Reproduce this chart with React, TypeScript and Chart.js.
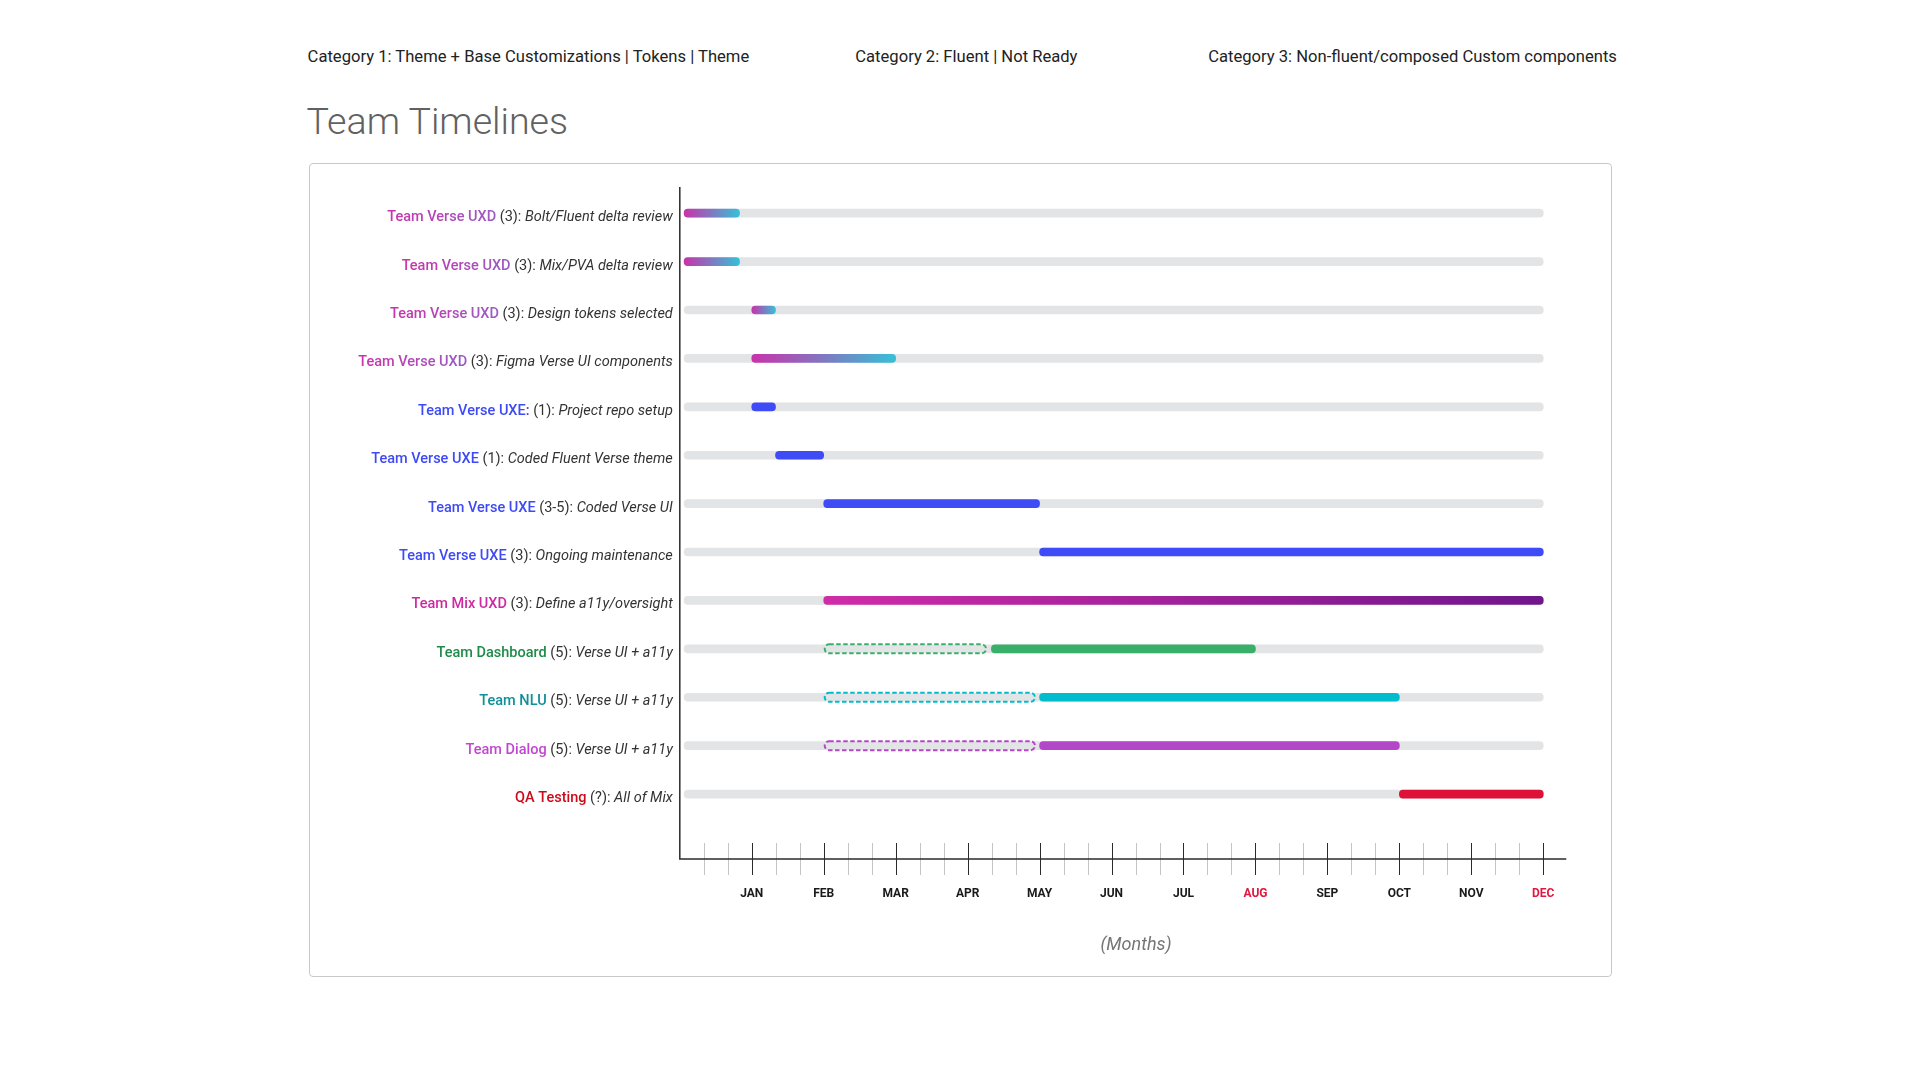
import { useEffect, useRef } from 'react';
import { Chart, registerables } from 'chart.js';

Chart.register(...registerables);

const teams = [
  'Team Verse UXD',
  'Team Verse UXD',
  'Team Verse UXD',
  'Team Verse UXD',
  'Team Verse UXE:',
  'Team Verse UXE',
  'Team Verse UXE',
  'Team Verse UXE',
  'Team Mix UXD',
  'Team Dashboard',
  'Team NLU',
  'Team Dialog',
  'QA Testing',
];
const crews = ['3', '3', '3', '3', '1', '1', '3-5', '3', '3', '5', '5', '5', '?'];
const tasks = [
  'Bolt/Fluent delta review',
  'Mix/PVA delta review',
  'Design tokens selected',
  'Figma Verse UI components',
  'Project repo setup',
  'Coded Fluent Verse theme',
  'Coded Verse UI',
  'Ongoing maintenance',
  'Define a11y/oversight',
  'Verse UI + a11y',
  'Verse UI + a11y',
  'Verse UI + a11y',
  'All of Mix',
];
// month numbers, 1 = JAN ... 12 = DEC
const activeStart = [0.06, 0.06, 1, 1, 1, 1.33, 2, 5, 2, 4.33, 5, 5, 10];
const activeEnd = [0.83, 0.83, 1.33, 3, 1.33, 2, 5, 12, 12, 8, 10, 10, 12];
const pendingRows = [9, 10, 11];
const pendingStart = [2, 2, 2];
const pendingEnd = [4.27, 4.95, 4.95];
const trackStart = 0.06;
const trackEnd = 12;
const axisEnd = 12.32;
const months = ['JAN', 'FEB', 'MAR', 'APR', 'MAY', 'JUN', 'JUL', 'AUG', 'SEP', 'OCT', 'NOV', 'DEC'];
const redMonths = ['AUG', 'DEC'];
const categories = [
  'Category 1: Theme + Base Customizations | Tokens | Theme',
  'Category 2: Fluent | Not Ready',
  'Category 3: Non-fluent/composed Custom components',
];

const rowTheme = ['uxd', 'uxd', 'uxd', 'uxd', 'uxe', 'uxe', 'uxe', 'uxe', 'mix', 'dash', 'nlu', 'dialog', 'qa'];
const barPaint: Record<string, string[]> = {
  uxd: ['#c932ab', '#36c0d8'],
  uxe: ['#3f4bf7'],
  mix: ['#d02ca8', '#6f168a'],
  dash: ['#39b06a'],
  nlu: ['#00bccd'],
  dialog: ['#b447c8'],
  qa: ['#de1239'],
};
const labelPaint: Record<string, string[]> = {
  uxd: ['#cc33aa', '#9a5cc4'],
  uxe: ['#3d4af5'],
  mix: ['#cc2aa0'],
  dash: ['#1e8c48'],
  nlu: ['#0e8f99'],
  dialog: ['#c048d0'],
  qa: ['#cc0a1a'],
};
const TRACK = '#e3e4e6';
const FONT = 'Roboto, "Noto Sans", sans-serif';

const rows = teams.map((_, i) => i);

// axis lines + major/minor tick marks that cross the bottom axis
const timelineAxis = {
  id: 'timelineAxis',
  afterDatasetsDraw(chart: any) {
    const { ctx, chartArea } = chart;
    const xs = chart.scales.x;
    const x0 = xs.getPixelForValue(0);
    const y0 = chartArea.bottom;
    ctx.save();
    ctx.lineWidth = 1;
    for (let k = 1; k <= 36; k++) {
      const px = Math.round(xs.getPixelForValue(k / 3)) + 0.5;
      ctx.strokeStyle = k % 3 === 0 ? '#2b2b2b' : '#c4c4c4';
      ctx.beginPath();
      ctx.moveTo(px, y0 - 16);
      ctx.lineTo(px, y0 + 16);
      ctx.stroke();
    }
    ctx.strokeStyle = '#2b2b2b';
    ctx.lineWidth = 1.5;
    ctx.beginPath();
    ctx.moveTo(x0, chartArea.top);
    ctx.lineTo(x0, y0);
    ctx.lineTo(xs.getPixelForValue(axisEnd), y0);
    ctx.stroke();
    ctx.restore();
  },
};

const dashedOutline = {
  id: 'dashedOutline',
  afterDatasetsDraw(chart: any) {
    const { ctx } = chart;
    const meta = chart.getDatasetMeta(1);
    ctx.save();
    ctx.setLineDash([4.5, 2.5]);
    ctx.lineWidth = 2;
    meta.data.forEach((bar: any, k: number) => {
      const { x, base, y } = bar.getProps(['x', 'base', 'y'], true);
      const left = Math.min(x, base);
      const w = Math.abs(x - base);
      ctx.strokeStyle = barPaint[rowTheme[pendingRows[k]]][0];
      ctx.beginPath();
      ctx.roundRect(left + 1, y - 4.5, w - 2, 9, 4.5);
      ctx.stroke();
    });
    ctx.restore();
  },
};

const rowLabels = {
  id: 'rowLabels',
  afterDraw(chart: any) {
    const { ctx, chartArea } = chart;
    const ys = chart.scales.y;
    const right = chartArea.left - 7;
    const fTeam = `500 14.5px ${FONT}`;
    const fPlain = `400 14.5px ${FONT}`;
    const fItal = `italic 400 14.5px ${FONT}`;
    ctx.save();
    ctx.textBaseline = 'alphabetic';
    ctx.textAlign = 'left';
    rows.forEach((i) => {
      const y = ys.getPixelForValue(i) + 8;
      const mid = ` (${crews[i]}): `;
      ctx.font = fTeam;
      const wTeam = ctx.measureText(teams[i]).width;
      ctx.font = fPlain;
      const wMid = ctx.measureText(mid).width;
      ctx.font = fItal;
      const wTask = ctx.measureText(tasks[i]).width;
      let x = right - wTeam - wMid - wTask;
      const paint = labelPaint[rowTheme[i]];
      if (paint.length > 1) {
        const g = ctx.createLinearGradient(x, 0, x + wTeam, 0);
        g.addColorStop(0, paint[0]);
        g.addColorStop(1, paint[1]);
        ctx.fillStyle = g;
      } else {
        ctx.fillStyle = paint[0];
      }
      ctx.font = fTeam;
      ctx.fillText(teams[i], x, y);
      x += wTeam;
      ctx.fillStyle = '#333333';
      ctx.font = fPlain;
      ctx.fillText(mid, x, y);
      x += wMid;
      ctx.font = fItal;
      ctx.fillText(tasks[i], x, y);
    });
    ctx.restore();
  },
};

function activeColor(c: any) {
  const i = c.dataIndex;
  const p = barPaint[rowTheme[i]];
  const xs = c.chart.scales.x;
  if (p.length === 1 || !xs) return p[0];
  const x0 = xs.getPixelForValue(activeStart[i]);
  const x1 = xs.getPixelForValue(activeEnd[i]);
  if (!Number.isFinite(x0) || !Number.isFinite(x1) || x1 <= x0) return p[0];
  const g = c.chart.ctx.createLinearGradient(x0, 0, x1, 0);
  g.addColorStop(0, p[0]);
  g.addColorStop(1, p[1]);
  return g;
}

function TimelineChart() {
  const canvasRef = useRef<HTMLCanvasElement | null>(null);

  useEffect(() => {
    if (!canvasRef.current) {
      return;
    }

    const chart = new Chart(canvasRef.current, {
      type: 'bar',
      data: {
        datasets: [
          {
            label: 'active',
            data: rows.map((i) => ({ x: [activeStart[i], activeEnd[i]], y: i })) as any,
            backgroundColor: activeColor,
            order: 1,
          },
          {
            label: 'pending',
            data: pendingRows.map((r, k) => ({ x: [pendingStart[k], pendingEnd[k]], y: r })) as any,
            backgroundColor: 'rgba(0,0,0,0)',
            order: 2,
          },
          {
            label: 'track',
            data: rows.map((i) => ({ x: [trackStart, trackEnd], y: i })) as any,
            backgroundColor: TRACK,
            order: 3,
          },
        ],
      },
      options: {
        indexAxis: 'y',
        animation: false,
        responsive: true,
        maintainAspectRatio: false,
        events: [],
        datasets: {
          bar: {
            grouped: false,
            barThickness: 8,
            borderRadius: 4,
            borderSkipped: false,
          },
        },
        layout: { padding: { left: 369.8, top: 23, right: 18.8, bottom: 20 } },
        plugins: { legend: { display: false }, tooltip: { enabled: false } },
        scales: {
          y: {
            type: 'linear',
            display: false,
            reverse: true,
            offset: false,
            min: -0.541,
            max: 13.341,
          },
          x: {
            type: 'linear',
            min: 0,
            max: 12.68,
            offset: false,
            grid: { display: false, drawTicks: true, tickLength: 25 },
            border: { display: false },
            ticks: {
              stepSize: 1,
              includeBounds: false,
              autoSkip: false,
              maxRotation: 0,
              padding: 3,
              font: { family: FONT, size: 12, weight: 'bold' },
              color: (c: any) => (redMonths.includes(months[c.tick.value - 1]) ? '#e0173f' : '#1a1a1a'),
              callback: (v: any) => (Number.isInteger(v) && v >= 1 && v <= 12 ? months[v - 1] : ''),
            },
            title: {
              display: true,
              text: '(Months)',
              color: '#757575',
              font: { family: FONT, size: 18, style: 'italic' },
              padding: { top: 30, bottom: 0 },
            },
          },
        },
      },
      plugins: [timelineAxis, dashedOutline, rowLabels],
    });

    return () => {
      chart.destroy();
    };
  }, []);

  return <canvas ref={canvasRef} style={{ display: 'block' }} />;
}

export default function App() {
  const catLeft = [307.6, 855.3, 1208.2];
  return (
    <div style={{ position: 'absolute', left: 0, top: 0, width: 1920, height: 1080, background: '#fff', fontFamily: FONT }}>
      {categories.map((c, i) => (
        <div
          key={c}
          style={{ position: 'absolute', left: catLeft[i], top: 46.5, fontSize: 16.6, lineHeight: '20px', color: '#222' }}
        >
          {c}
        </div>
      ))}
      <div
        style={{ position: 'absolute', left: 306.5, top: 97, fontSize: 37.6, fontWeight: 300, lineHeight: '48px', color: '#616161' }}
      >
        Team Timelines
      </div>
      <div
        style={{
          position: 'absolute',
          left: 309,
          top: 163,
          width: 1303,
          height: 814,
          boxSizing: 'border-box',
          border: '1px solid #c9c9c9',
          borderRadius: 4,
        }}
      >
        <div style={{ position: 'relative', width: 1301, height: 812 }}>
          <TimelineChart />
        </div>
      </div>
    </div>
  );
}
